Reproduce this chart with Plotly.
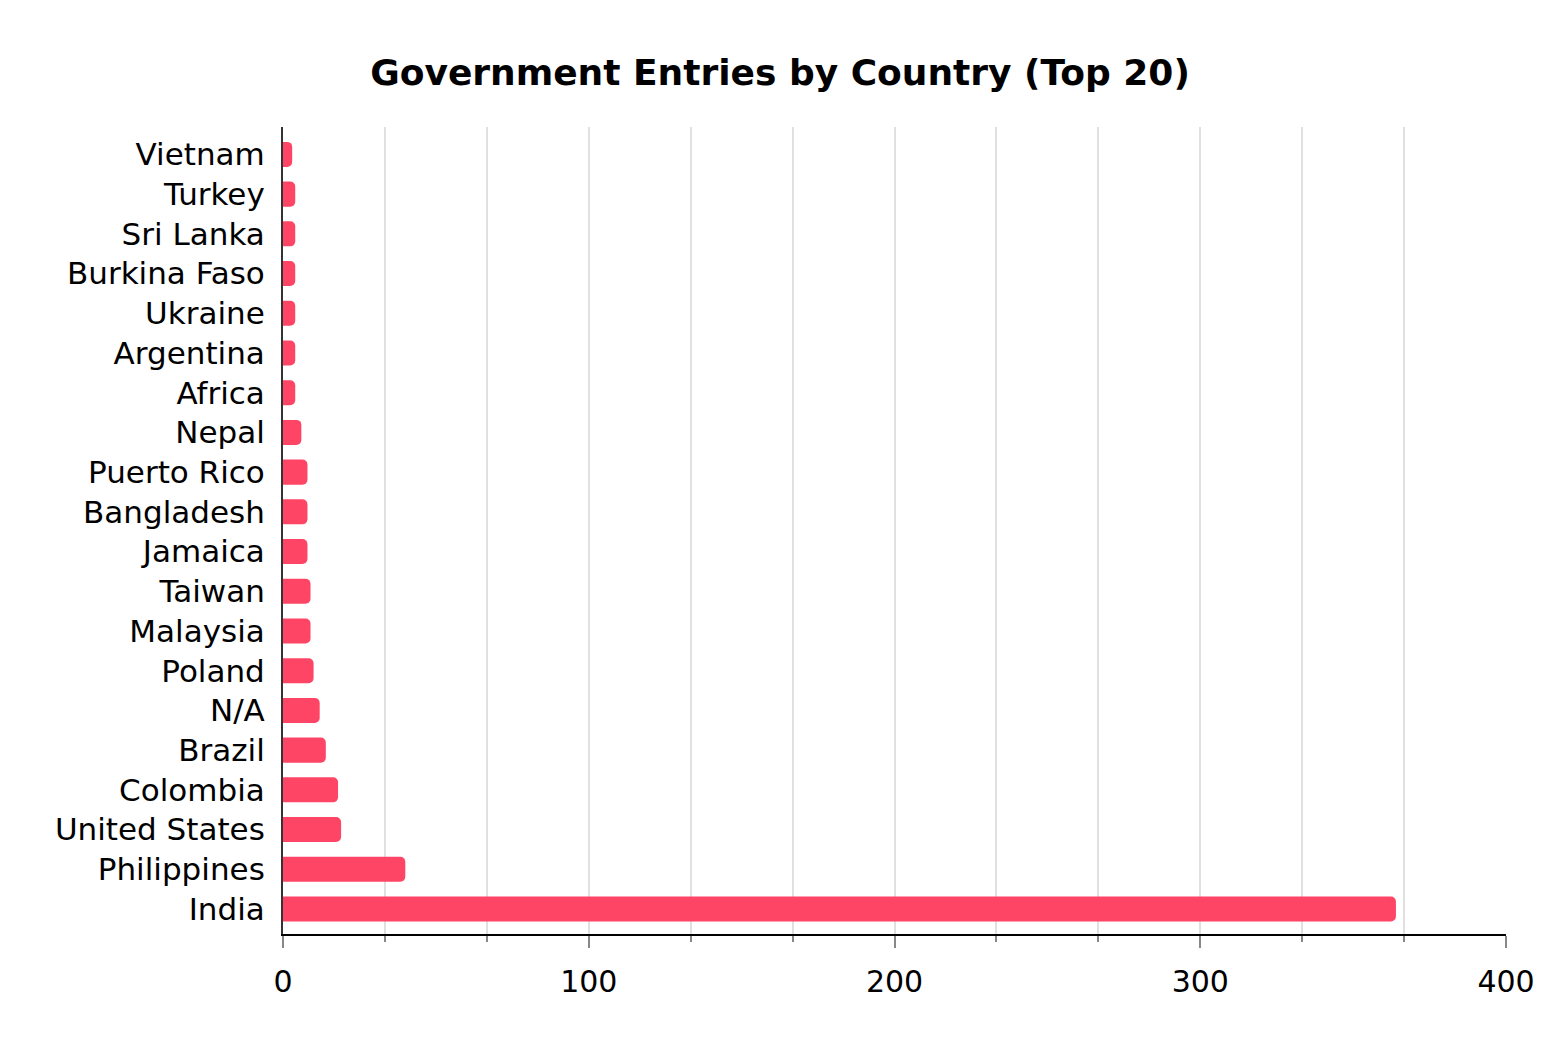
import plotly.graph_objects as go

countries = ["India", "Philippines", "United States", "Colombia", "Brazil", "N/A",
             "Poland", "Malaysia", "Taiwan", "Jamaica", "Bangladesh", "Puerto Rico",
             "Nepal", "Africa", "Argentina", "Ukraine", "Burkina Faso", "Sri Lanka",
             "Turkey", "Vietnam"]
entries = [364, 40, 19, 18, 14, 12, 10, 9, 9, 8, 8, 8, 6, 4, 4, 4, 4, 4, 4, 3]

x_range = [0, 400]
major_ticks = [0, 100, 200, 300, 400]
minor_step = 100 / 3

FONT = "DejaVu Sans, Tahoma, Verdana, sans-serif"

fig = go.Figure()
fig.add_trace(go.Bar(
    x=entries, y=countries, orientation="h",
    marker=dict(color="#ff4565", cornerradius=5, line=dict(width=0)),
    width=0.63, hoverinfo="x+y",
))

fig.update_layout(
    width=1560, height=1054,
    paper_bgcolor="white", plot_bgcolor="white",
    margin=dict(l=275, r=62, t=119, b=128),
    title=dict(text="<b>Government Entries by Country (Top 20)</b>",
               x=0.5 - 8 / 1560, xanchor="center", y=1 - 64 / 1054, yanchor="middle",
               font=dict(family=FONT, size=36, color="black")),
    font=dict(family=FONT, size=31, color="black"),
    showlegend=False,
    xaxis=dict(
        range=x_range, tickvals=major_ticks, ticktext=[str(v) for v in major_ticks],
        showgrid=True, gridcolor="#e0e0e0", gridwidth=1.5,
        showline=True, linecolor="black", linewidth=2,
        ticks="outside", ticklen=12, tickcolor="#888888", tickwidth=1.5,
        ticklabelstandoff=8,
        minor=dict(dtick=minor_step, tick0=0, showgrid=True, gridcolor="#e0e0e0",
                   gridwidth=1.5, ticks="outside", ticklen=6, tickcolor="#888888",
                   tickwidth=1.5),
        zeroline=False, fixedrange=True,
        tickfont=dict(family=FONT, size=30, color="black"),
    ),
    xaxis2=dict(
        range=x_range, overlaying="x", anchor="y", side="bottom",
        tickvals=major_ticks, showticklabels=False, showgrid=False,
        ticks="inside", ticklen=12, tickcolor="#888888", tickwidth=1.5,
        minor=dict(dtick=minor_step, tick0=0, showgrid=False, ticks="inside",
                   ticklen=6, tickcolor="#888888", tickwidth=1.5),
        zeroline=False, showline=False,
    ),
    yaxis=dict(
        categoryorder="array", categoryarray=countries,
        range=[-0.63, 19.69],
        showline=True, linecolor="#333333", linewidth=2,
        ticks="", showgrid=False, zeroline=False,
        ticklabelstandoff=10,
        tickfont=dict(family=FONT, size=31, color="black"),
    ),
)

fig.write_html("out.html")
